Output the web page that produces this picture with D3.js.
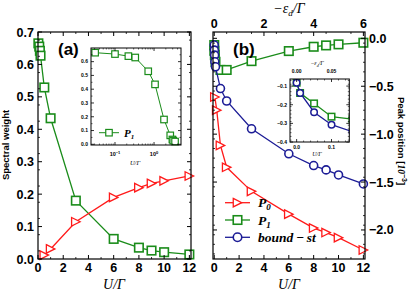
<!DOCTYPE html>
<html><head><meta charset="utf-8">
<script src="https://cdn.jsdelivr.net/npm/d3@7"></script>
<style>body{margin:0;background:#fff}svg{display:block}</style>
</head><body>
<svg id="c" width="415" height="294"></svg>
<script>
// ---------- data ----------
// panel (a): spectral weight vs U/Γ
const aP0_U = [0.5, 1, 3, 6, 8, 9, 10, 12];
const aP0_W = [0.012, 0.031, 0.115, 0.19, 0.22, 0.233, 0.241, 0.256];
const aP1_U = [0.03, 0.1, 0.15, 0.2, 0.5, 1, 3, 6, 8, 9, 10, 12];
const aP1_W = [0.665, 0.655, 0.642, 0.627, 0.529, 0.434, 0.18, 0.062, 0.035, 0.026, 0.021, 0.014];
// inset (a): log x
const insA_U = [0.031, 0.1, 0.22, 0.33, 0.71, 1.06, 1.8, 2.6, 2.95, 3.1, 3.45];
const insA_W = [0.665, 0.655, 0.64, 0.63, 0.53, 0.435, 0.18, 0.065, 0.035, 0.027, 0.02];
// panel (b): peak position vs U/Γ
const bP0_U = [0.05, 0.2, 0.5, 1, 3, 6, 8, 9, 10, 12];
const bP0_E = [-0.612, -0.75, -1.118, -1.346, -1.597, -1.835, -1.98, -2.027, -2.08, -2.209];
const bP1_U = [0, 0.01, 0.05, 0.1, 0.5, 1, 3, 6, 8, 9, 10, 12];
const bP1_E = [-0.07, -0.13, -0.175, -0.245, -0.33, -0.33, -0.238, -0.133, -0.088, -0.074, -0.063, -0.046];
const bBS_U = [0, 0.01, 0.03, 0.05, 0.1, 0.5, 1, 3, 6, 8, 9, 10, 12];
const bBS_E = [-0.07, -0.123, -0.175, -0.245, -0.297, -0.524, -0.654, -0.944, -1.205, -1.328, -1.373, -1.426, -1.52];
// inset (b)
const insB_P1_U = [0, 0.01, 0.05, 0.1, 0.16];
const insB_P1_E = [-0.082, -0.137, -0.193, -0.264, -0.277];
const insB_BS_U = [0, 0.01, 0.05, 0.1, 0.16];
const insB_BS_E = [-0.082, -0.137, -0.24, -0.307, -0.345];
// ticks
const aYTicks = [0.0, 0.1, 0.2, 0.3, 0.4, 0.5, 0.6, 0.7];
const xTicks = [0, 2, 4, 6, 8, 10, 12];
const topTicks = [0, 2, 4, 6];
const bYTicks = [0.0, -0.5, -1.0, -1.5, -2.0];
const insAYTicks = [0.0, 0.1, 0.2, 0.3, 0.4, 0.5, 0.6];
const insBYTicks = [-0.1, -0.2, -0.3, -0.4];
const legendLabels = ["P", "P", "bound\u2009\u2212\u2009st"];

const RED = "#ff1a1a", GREEN = "#1a8c1a", BLUE = "#1c1c96";
const svg = d3.select("#c");
const SANS = "Liberation Sans, Arial, sans-serif";
const SERIF = "Liberation Serif, Times New Roman, serif";

function zip(a, b) { return a.map((v, i) => [v, b[i]]); }

function marker(g, type, x, y, s, color, sw) {
  if (type === "sq") {
    g.append("rect").attr("x", x - s / 2).attr("y", y - s / 2).attr("width", s).attr("height", s)
      .attr("fill", "white").attr("stroke", color).attr("stroke-width", sw);
  } else if (type === "ci") {
    g.append("circle").attr("cx", x).attr("cy", y).attr("r", s / 2)
      .attr("fill", "white").attr("stroke", color).attr("stroke-width", sw);
  } else {
    const h = s / 2;
    g.append("path").attr("d", `M${x - h},${y - h}L${x + h},${y}L${x - h},${y + h}Z`)
      .attr("fill", "white").attr("stroke", color).attr("stroke-width", sw);
  }
}
function series(g, xs, ys, sx, sy, color, type, s, lw, mw) {
  const pts = zip(xs, ys);
  g.append("path").datum(pts).attr("fill", "none").attr("stroke", color).attr("stroke-width", lw)
    .attr("d", d3.line().x(d => sx(d[0])).y(d => sy(d[1])));
  pts.forEach(d => marker(g, type, sx(d[0]), sy(d[1]), s, color, mw));
}
function frame(g, x0, y0, x1, y1, w) {
  g.append("rect").attr("x", x0).attr("y", y0).attr("width", x1 - x0).attr("height", y1 - y0)
    .attr("fill", "none").attr("stroke", "#000").attr("stroke-width", w);
}
// inward ticks
function ticksX(g, sx, vals, yEdge, dir, len, w) {
  vals.forEach(v => g.append("line").attr("x1", sx(v)).attr("x2", sx(v))
    .attr("y1", yEdge).attr("y2", yEdge + dir * len).attr("stroke", "#000").attr("stroke-width", w));
}
function ticksY(g, sy, vals, xEdge, dir, len, w) {
  vals.forEach(v => g.append("line").attr("y1", sy(v)).attr("y2", sy(v))
    .attr("x1", xEdge).attr("x2", xEdge + dir * len).attr("stroke", "#000").attr("stroke-width", w));
}
function rng(a, b, st) { const r = []; for (let v = a; v <= b + 1e-9; v += st) r.push(+v.toFixed(4)); return r; }

// ---------- panel (a) ----------
const ax = d3.scaleLinear().domain([0, 12.13]).range([38, 191]);
const ay = d3.scaleLinear().domain([0, 0.7]).range([259, 32]);
const ga = svg.append("g");
series(ga, aP1_U, aP1_W, ax, ay, GREEN, "sq", 8.5, 1.3, 1.6);
series(ga, aP0_U, aP0_W, ax, ay, RED, "tri", 8.5, 1.3, 1.3);
frame(ga, 38, 32, 191, 259, 1.2);
ticksY(ga, ay, aYTicks, 38, 1, 4, 1);
ticksY(ga, ay, rng(0.025, 0.7, 0.05), 38, 1, 2, 0.8);
ticksY(ga, ay, aYTicks, 191, -1, 4, 1);
ticksY(ga, ay, rng(0.025, 0.7, 0.05), 191, -1, 2, 0.8);
ticksX(ga, ax, xTicks, 259, -1, 4, 1);
ticksX(ga, ax, rng(1, 11, 2), 259, -1, 2, 0.8);
ticksX(ga, ax, xTicks, 32, 1, 4, 1);
ticksX(ga, ax, rng(1, 11, 2), 32, 1, 2, 0.8);
ga.selectAll(".yl").data(aYTicks).enter().append("text").attr("x", 34).attr("y", d => ay(d) + 4.5)
  .attr("text-anchor", "end").attr("font-family", SANS).attr("font-weight", "bold").attr("font-size", 12.5)
  .text(d => d.toFixed(1));
ga.selectAll(".xl").data(xTicks).enter().append("text").attr("x", d => ax(d)).attr("y", 272)
  .attr("text-anchor", "middle").attr("font-family", SANS).attr("font-weight", "bold").attr("font-size", 12.5)
  .text(d => d);
ga.append("text").attr("x", 114).attr("y", 289).attr("text-anchor", "middle").attr("font-family", SERIF)
  .attr("font-style", "italic").attr("font-size", 14).text("U/\u0393");
ga.append("text").attr("transform", "translate(9,145) rotate(-90)").attr("text-anchor", "middle")
  .attr("font-family", SANS).attr("font-weight", "bold").attr("font-size", 9.5).text("Spectral weight");
ga.append("text").attr("x", 58).attr("y", 55).attr("font-family", SANS).attr("font-weight", "bold")
  .attr("font-size", 17).text("(a)");

// inset (a)
const iax = d3.scaleLog().domain([0.0243, 4.9]).range([91, 181]);
const iay = d3.scaleLinear().domain([-0.005, 0.699]).range([145, 48]);
const gia = svg.append("g");
gia.append("rect").attr("x", 91).attr("y", 48).attr("width", 90).attr("height", 97).attr("fill", "white");
series(gia, insA_U, insA_W, iax, iay, GREEN, "sq", 6.5, 1, 1.2);
frame(gia, 91, 48, 181, 145, 1);
ticksY(gia, iay, insAYTicks, 91, 1, 3, 0.8);
ticksY(gia, iay, insAYTicks, 181, -1, 3, 0.8);
ticksY(gia, iay, rng(0.05, 0.65, 0.1), 91, 1, 1.5, 0.6);
ticksY(gia, iay, rng(0.05, 0.65, 0.1), 181, -1, 1.5, 0.6);
const logMinor = [];
[0.01, 0.1, 1].forEach(dcd => { for (let k = 2; k <= 9; k++) { const v = dcd * k; if (v > 0.0243 && v < 4.9) logMinor.push(v); } });
ticksX(gia, iax, [0.1, 1], 145, -1, 3, 0.8);
ticksX(gia, iax, [0.1, 1], 48, 1, 3, 0.8);
ticksX(gia, iax, logMinor, 145, -1, 1.5, 0.6);
ticksX(gia, iax, logMinor, 48, 1, 1.5, 0.6);
gia.selectAll(".iyl").data(insAYTicks).enter().append("text").attr("x", 88).attr("y", d => iay(d) + 1.8)
  .attr("text-anchor", "end").attr("font-family", SANS).attr("font-weight", "bold").attr("font-size", 5)
  .text(d => d.toFixed(1));
[[0.1, "\u22121"], [1, "0"]].forEach(([v, e]) => {
  const t = gia.append("text").attr("x", iax(v)).attr("y", 156).attr("text-anchor", "middle")
    .attr("font-family", SANS).attr("font-weight", "bold").attr("font-size", 5.5);
  t.append("tspan").text("10");
  t.append("tspan").attr("dy", -2.5).attr("font-size", 4).text(e);
});
gia.append("text").attr("x", 135).attr("y", 165).attr("text-anchor", "middle").attr("font-family", SERIF)
  .attr("font-style", "italic").attr("font-size", 6.5).text("U/\u0393");
gia.append("line").attr("x1", 99).attr("x2", 119).attr("y1", 132.7).attr("y2", 132.7).attr("stroke", GREEN).attr("stroke-width", 1);
marker(gia, "sq", 109, 132.7, 6.5, GREEN, 1.2);
const la = gia.append("text").attr("x", 124).attr("y", 136.5).attr("font-family", SERIF).attr("font-style", "italic")
  .attr("font-weight", "bold").attr("font-size", 11);
la.append("tspan").text("P");
la.append("tspan").attr("dy", 2.5).attr("font-size", 7).text("1");

// ---------- panel (b) ----------
const bx = d3.scaleLinear().domain([-0.1, 12.13]).range([213, 365]);
const bxTop = d3.scaleLinear().domain([-0.05, 6.065]).range([213, 365]);
const by = d3.scaleLinear().domain([-2.303, 0.066]).range([259, 32]);
const gb = svg.append("g");
series(gb, bP1_U, bP1_E, bx, by, GREEN, "sq", 8.5, 1.3, 1.6);
series(gb, bBS_U, bBS_E, bx, by, BLUE, "ci", 8, 1.3, 1.6);
series(gb, bP0_U, bP0_E, bx, by, RED, "tri", 8.5, 1.3, 1.3);
frame(gb, 213, 32, 365, 259, 1.2);
ticksX(gb, bx, xTicks, 259, -1, 4, 1);
ticksX(gb, bx, rng(1, 11, 2), 259, -1, 2, 0.8);
ticksX(gb, bxTop, topTicks, 32, 1, 4, 1);
ticksX(gb, bxTop, rng(0.5, 5.5, 1), 32, 1, 2, 0.8);
ticksY(gb, by, bYTicks, 365, -1, 4, 1);
ticksY(gb, by, rng(-2.25, 0, 0.1).map(v => +(v).toFixed(2)).filter(v => Math.abs((v * 2) % 1) > 1e-6), 365, -1, 2, 0.8);
ticksY(gb, by, bYTicks, 213, 1, 4, 1);
ticksY(gb, by, rng(-2.25, 0, 0.1).map(v => +(v).toFixed(2)).filter(v => Math.abs((v * 2) % 1) > 1e-6), 213, 1, 2, 0.8);
gb.selectAll(".xl").data(xTicks).enter().append("text").attr("x", d => bx(d)).attr("y", 272)
  .attr("text-anchor", "middle").attr("font-family", SANS).attr("font-weight", "bold").attr("font-size", 12.5)
  .text(d => d);
gb.selectAll(".tl").data(topTicks).enter().append("text").attr("x", d => bxTop(d)).attr("y", 28)
  .attr("text-anchor", "middle").attr("font-family", SANS).attr("font-weight", "bold").attr("font-size", 12.5)
  .text(d => d);
gb.selectAll(".yl").data(bYTicks).enter().append("text").attr("x", 369).attr("y", d => by(d) + 4.5)
  .attr("text-anchor", "start").attr("font-family", SANS).attr("font-weight", "bold").attr("font-size", 12.5)
  .text(d => (d === 0 ? "0.0" : "\u2212" + Math.abs(d).toFixed(1)));
gb.append("text").attr("x", 289).attr("y", 289).attr("text-anchor", "middle").attr("font-family", SERIF)
  .attr("font-style", "italic").attr("font-size", 14).text("U/\u0393");
const tt = gb.append("text").attr("x", 289).attr("y", 13).attr("text-anchor", "middle").attr("font-family", SERIF)
  .attr("font-style", "italic").attr("font-size", 14);
tt.append("tspan").text("\u2212\u03b5");
tt.append("tspan").attr("dy", 3).attr("font-size", 9).text("d");
tt.append("tspan").attr("dy", -3).text("/\u0393");
const yl = gb.append("text").attr("transform", "translate(398,141) rotate(90)").attr("text-anchor", "middle")
  .attr("font-family", SANS).attr("font-weight", "bold").attr("font-size", 9.5);
yl.append("tspan").text("Peak position [");
yl.append("tspan").attr("font-style", "italic").attr("font-family", SERIF).text("10");
yl.append("tspan").attr("dy", -4).attr("font-size", 7).text("\u22123");
yl.append("tspan").attr("dy", 4).text("]");
gb.append("text").attr("x", 233).attr("y", 55).attr("font-family", SANS).attr("font-weight", "bold")
  .attr("font-size", 17).text("(b)");

// legend (b)
const legColors = [RED, GREEN, BLUE], legTypes = ["tri", "sq", "ci"], legY = [202.7, 220, 237.3];
legendLabels.forEach((lab, i) => {
  gb.append("line").attr("x1", 225).attr("x2", 250).attr("y1", legY[i]).attr("y2", legY[i])
    .attr("stroke", legColors[i]).attr("stroke-width", 1.3);
  marker(gb, legTypes[i], 237.5, legY[i], 8.5, legColors[i], legTypes[i] === "tri" ? 1.3 : 1.6);
  const t = gb.append("text").attr("x", 258).attr("y", legY[i] + 4.5).attr("font-family", SERIF)
    .attr("font-style", "italic").attr("font-weight", "bold").attr("font-size", 13.5);
  t.append("tspan").text(lab);
  if (i < 2) t.append("tspan").attr("dy", 3).attr("font-size", 9).text(String(i));
});

// inset (b)
const ibx = d3.scaleLinear().domain([-0.019, 0.151]).range([290, 349.3]);
const ibxTop = d3.scaleLinear().domain([-0.0095, 0.0755]).range([290, 349.3]);
const iby = d3.scaleLinear().domain([-0.40, -0.062]).range([142, 79]);
const gib = svg.append("g");
gib.append("rect").attr("x", 290).attr("y", 79).attr("width", 59.3).attr("height", 63).attr("fill", "white");
const clip = gib.append("clipPath").attr("id", "cb").append("rect").attr("x", 290).attr("y", 79).attr("width", 59.3).attr("height", 63);
const gic = gib.append("g").attr("clip-path", "url(#cb)");
series(gic, insB_P1_U, insB_P1_E, ibx, iby, GREEN, "sq", 6.5, 1.3, 1.5);
series(gic, insB_BS_U, insB_BS_E, ibx, iby, BLUE, "ci", 6.5, 1.3, 1.5);
frame(gib, 290, 79, 349.3, 142, 1);
ticksY(gib, iby, insBYTicks, 290, 1, 3, 0.8);
ticksY(gib, iby, insBYTicks, 349.3, -1, 3, 0.8);
ticksY(gib, iby, rng(-0.39, -0.07, 0.02).filter(v => Math.abs(Math.round(v * 10) - v * 10) > 1e-6), 290, 1, 1.5, 0.6);
ticksY(gib, iby, rng(-0.39, -0.07, 0.02).filter(v => Math.abs(Math.round(v * 10) - v * 10) > 1e-6), 349.3, -1, 1.5, 0.6);
ticksX(gib, ibx, [0, 0.1], 142, -1, 3, 0.8);
ticksX(gib, ibx, rng(0.02, 0.14, 0.02).filter(v => Math.abs(v - 0.1) > 1e-6), 142, -1, 1.5, 0.6);
ticksX(gib, ibxTop, [0, 0.05], 79, 1, 3, 0.8);
ticksX(gib, ibxTop, rng(0.01, 0.07, 0.01).filter(v => Math.abs(v - 0.05) > 1e-6), 79, 1, 1.5, 0.6);
gib.selectAll(".iyl").data(insBYTicks).enter().append("text").attr("x", 287).attr("y", d => iby(d) + 1.8)
  .attr("text-anchor", "end").attr("font-family", SANS).attr("font-weight", "bold").attr("font-size", 5)
  .text(d => "\u2212" + Math.abs(d).toFixed(1));
gib.selectAll(".ixl").data([0, 0.1]).enter().append("text").attr("x", d => ibx(d)).attr("y", 149)
  .attr("text-anchor", "middle").attr("font-family", SANS).attr("font-weight", "bold").attr("font-size", 5)
  .text(d => d.toFixed(1));
gib.selectAll(".itl").data([0, 0.05]).enter().append("text").attr("x", d => ibxTop(d)).attr("y", 72.5)
  .attr("text-anchor", "middle").attr("font-family", SANS).attr("font-weight", "bold").attr("font-size", 5)
  .text(d => d.toFixed(2));
gib.append("text").attr("x", 317).attr("y", 156).attr("text-anchor", "middle").attr("font-family", SERIF)
  .attr("font-style", "italic").attr("font-size", 6).text("U/\u0393");
const it = gib.append("text").attr("x", 317).attr("y", 65).attr("text-anchor", "middle").attr("font-family", SERIF)
  .attr("font-style", "italic").attr("font-size", 6);
it.append("tspan").text("\u2212\u03b5");
it.append("tspan").attr("dy", 1.5).attr("font-size", 4).text("d");
it.append("tspan").attr("dy", -1.5).text("/\u0393");
</script>
</body></html>
